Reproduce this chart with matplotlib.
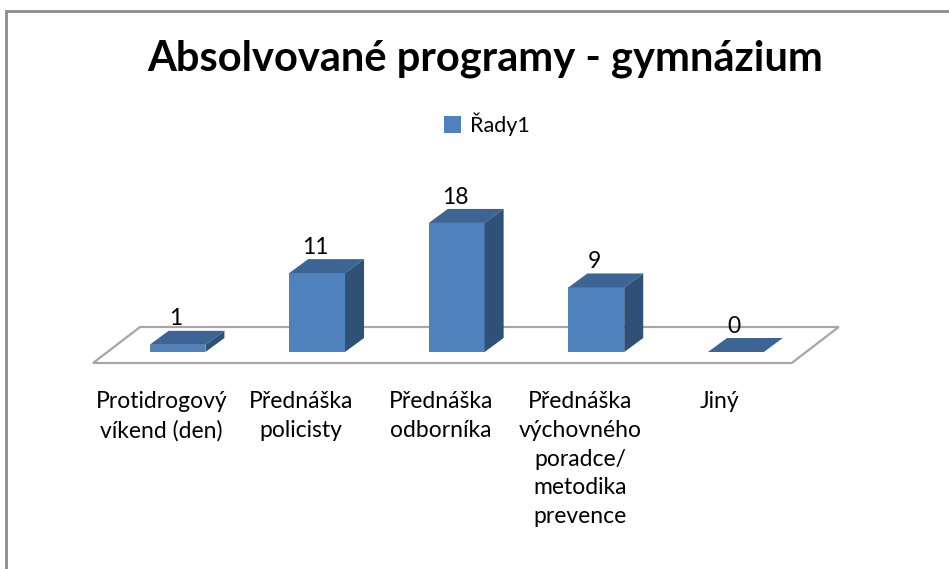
import matplotlib
matplotlib.use("Agg")
import matplotlib.pyplot as plt
from matplotlib.patches import Polygon, Rectangle

plt.rcParams['font.family'] = ['Lato', 'DejaVu Sans']

# data
categories = ["Protidrogový\nvíkend (den)", "Přednáška\npolicisty", "Přednáška\nodborníka",
              "Přednáška\nvýchovného\nporadce/\nmetodika\nprevence", "Jiný"]
values = [1, 11, 18, 9, 0]
series_name = "Řady1"
title = "Absolvované programy - gymnázium"

W, H = 949, 569
fig = plt.figure(figsize=(W / 100, H / 100), dpi=100)
ax = fig.add_axes([0, 0, 1, 1])

# pixel scale: category step ~139.6 px, 1 unit ~7.17 px, baseline at y=352 px
px_x, px_y = 139.6, 7.17
x0_px, y0_px = 177.5, 352
ax.set_xlim(-x0_px / px_x, (W - x0_px) / px_x)
ax.set_ylim(-(H - y0_px) / px_y, y0_px / px_y)
ax.axis("off")

front = "#4F81BD"
top_c = "#3C6494"
side_c = "#2F5077"

n = len(values)
xs = list(range(n))
bw = 0.4
dx, dy = 19 / px_x, 14 / px_y

# floor
fdx, fdy = 47 / px_x, 36 / px_y
fl, fr = -0.605, n - 1 + 0.4
fy = -11 / px_y
floor = Polygon([(fl, fy), (fr, fy), (fr + fdx, fy + fdy), (fl + fdx, fy + fdy)],
                closed=True, facecolor="white", edgecolor="#a6a6a6", lw=1.6, zorder=1)
ax.add_patch(floor)

bars = ax.bar(xs, values, width=bw, color=front, zorder=3, label=series_name)
lab_shift = -16 / px_x
for x, v in zip(xs, values):
    l, r = x - bw / 2, x + bw / 2
    ax.add_patch(Polygon([(l, v), (r, v), (r + dx, v + dy), (l + dx, v + dy)],
                         closed=True, facecolor=top_c, edgecolor="none", zorder=3))
    if v > 0:
        ax.add_patch(Polygon([(r, 0), (r + dx, dy), (r + dx, v + dy), (r, v)],
                             closed=True, facecolor=side_c, edgecolor="none", zorder=3))
    ax.text(x - 1.5 / px_x, v + dy + 0.2, str(v), ha="center", va="bottom", fontsize=16.5,
            color="black")
    ax.text(x + lab_shift, -39 / px_y, categories[x], ha="center", va="top", fontsize=16.5,
            linespacing=1.46, color="black")

fig.text(485 / W, 1 - 59 / H, title, ha="center", va="center", fontsize=30, fontweight="bold")

ax.legend(loc="center", bbox_to_anchor=(487 / W, 1 - 124 / H), bbox_transform=fig.transFigure,
          frameon=False, handlelength=0.8, handleheight=0.8, handletextpad=0.4, fontsize=15.5)

# outer chart border (only top and left visible)
fig.patches.append(Rectangle((6 / W, -0.1), 1.2, 1.1 - 11 / H, transform=fig.transFigure,
                             fill=False, edgecolor="#8c8c8c", lw=2))

fig.savefig("out.png", dpi=100)
